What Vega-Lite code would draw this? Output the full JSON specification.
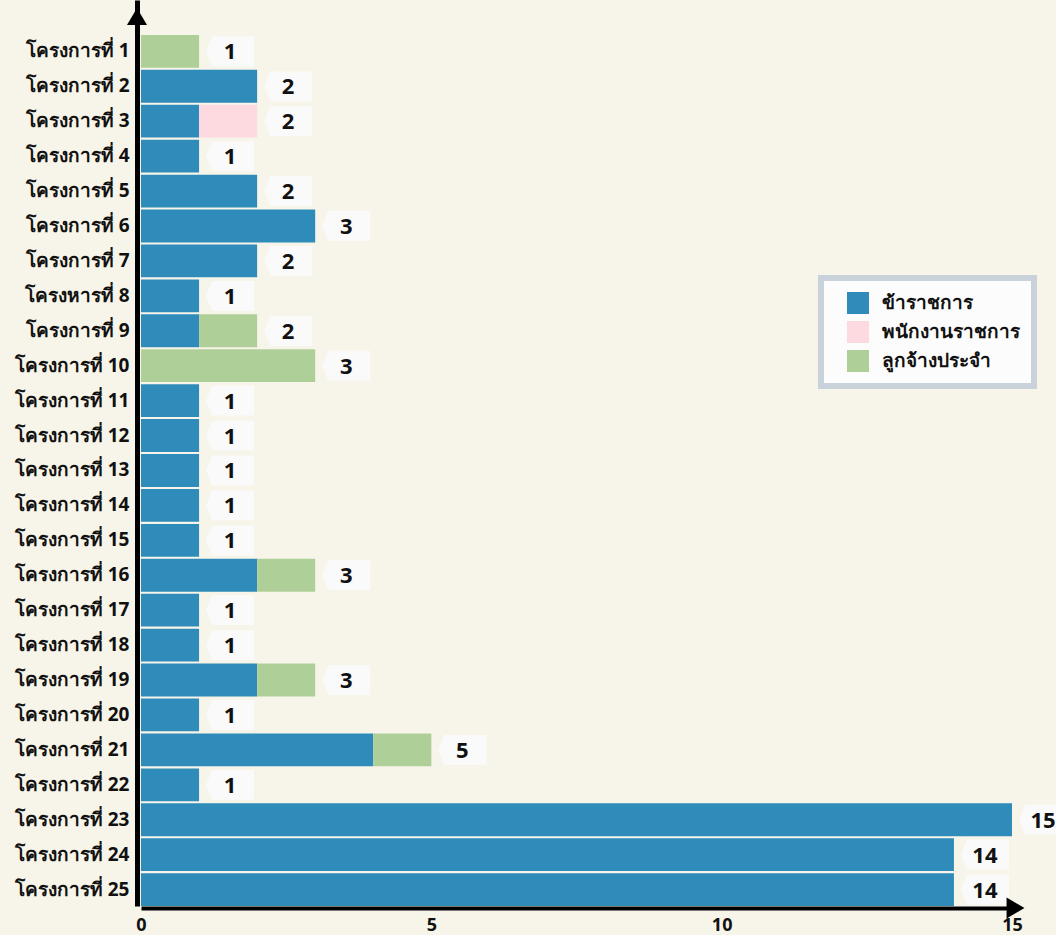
{
  "$schema": "https://vega.github.io/schema/vega-lite/v6.json",
  "autosize": {"type": "none"},
  "width": 871,
  "height": 906,
  "padding": {"left": 141, "top": 0, "right": 44, "bottom": 29},
  "background": "#f7f5e9",
  "config": {
    "view": {"stroke": null},
    "font": "Noto Sans",
    "axis": {"labelFont": "Noto Sans", "labelFontWeight": "bold", "labelColor": "#111111", "labelFontSize": 19}
  },
  "datasets": {
    "rows": [
      {"project": "โครงการที่ 1", "type": "ลูกจ้างประจำ", "n": 1},
      {"project": "โครงการที่ 2", "type": "ข้าราชการ", "n": 2},
      {"project": "โครงการที่ 3", "type": "ข้าราชการ", "n": 1},
      {"project": "โครงการที่ 3", "type": "พนักงานราชการ", "n": 1},
      {"project": "โครงการที่ 4", "type": "ข้าราชการ", "n": 1},
      {"project": "โครงการที่ 5", "type": "ข้าราชการ", "n": 2},
      {"project": "โครงการที่ 6", "type": "ข้าราชการ", "n": 3},
      {"project": "โครงการที่ 7", "type": "ข้าราชการ", "n": 2},
      {"project": "โครงหารที่ 8", "type": "ข้าราชการ", "n": 1},
      {"project": "โครงการที่ 9", "type": "ข้าราชการ", "n": 1},
      {"project": "โครงการที่ 9", "type": "ลูกจ้างประจำ", "n": 1},
      {"project": "โครงการที่ 10", "type": "ลูกจ้างประจำ", "n": 3},
      {"project": "โครงการที่ 11", "type": "ข้าราชการ", "n": 1},
      {"project": "โครงการที่ 12", "type": "ข้าราชการ", "n": 1},
      {"project": "โครงการที่ 13", "type": "ข้าราชการ", "n": 1},
      {"project": "โครงการที่ 14", "type": "ข้าราชการ", "n": 1},
      {"project": "โครงการที่ 15", "type": "ข้าราชการ", "n": 1},
      {"project": "โครงการที่ 16", "type": "ข้าราชการ", "n": 2},
      {"project": "โครงการที่ 16", "type": "ลูกจ้างประจำ", "n": 1},
      {"project": "โครงการที่ 17", "type": "ข้าราชการ", "n": 1},
      {"project": "โครงการที่ 18", "type": "ข้าราชการ", "n": 1},
      {"project": "โครงการที่ 19", "type": "ข้าราชการ", "n": 2},
      {"project": "โครงการที่ 19", "type": "ลูกจ้างประจำ", "n": 1},
      {"project": "โครงการที่ 20", "type": "ข้าราชการ", "n": 1},
      {"project": "โครงการที่ 21", "type": "ข้าราชการ", "n": 4},
      {"project": "โครงการที่ 21", "type": "ลูกจ้างประจำ", "n": 1},
      {"project": "โครงการที่ 22", "type": "ข้าราชการ", "n": 1},
      {"project": "โครงการที่ 23", "type": "ข้าราชการ", "n": 15},
      {"project": "โครงการที่ 24", "type": "ข้าราชการ", "n": 14},
      {"project": "โครงการที่ 25", "type": "ข้าราชการ", "n": 14}
    ]
  },
  "data": {"name": "rows"},
  "encoding": {
    "y": {
      "field": "project",
      "type": "nominal",
      "scale": {
        "domain": ["_top", "โครงการที่ 1", "โครงการที่ 2", "โครงการที่ 3", "โครงการที่ 4", "โครงการที่ 5", "โครงการที่ 6", "โครงการที่ 7", "โครงหารที่ 8", "โครงการที่ 9", "โครงการที่ 10", "โครงการที่ 11", "โครงการที่ 12", "โครงการที่ 13", "โครงการที่ 14", "โครงการที่ 15", "โครงการที่ 16", "โครงการที่ 17", "โครงการที่ 18", "โครงการที่ 19", "โครงการที่ 20", "โครงการที่ 21", "โครงการที่ 22", "โครงการที่ 23", "โครงการที่ 24", "โครงการที่ 25"],
        "paddingInner": 0.06,
        "paddingOuter": 0
      },
      "axis": {
        "title": null,
        "ticks": false,
        "domainColor": "#000000",
        "domainWidth": 5,
        "offset": 4,
        "labelPadding": 8,
        "labelExpr": "datum.value == '_top' ? '' : datum.value"
      }
    }
  },
  "layer": [
    {
      "mark": {"type": "bar"},
      "encoding": {
        "x": {
          "field": "n",
          "type": "quantitative",
          "stack": "zero",
          "scale": {"domain": [0, 15], "nice": false},
          "axis": {
            "title": null,
            "values": [0, 5, 10, 15],
            "format": "d",
            "labelFlush": false,
            "ticks": false,
            "grid": false,
            "domainColor": "#000000",
            "domainWidth": 4,
            "offset": 2,
            "labelPadding": 8,
            "labelFontSize": 18
          }
        },
        "color": {
          "field": "type",
          "type": "nominal",
          "scale": {
            "domain": ["ข้าราชการ", "พนักงานราชการ", "ลูกจ้างประจำ"],
            "range": ["#2e8bba", "#fdd9e0", "#afcf98"]
          },
          "legend": {
            "title": null,
            "orient": "none",
            "legendX": 680,
            "legendY": 278,
            "symbolType": "square",
            "symbolSize": 484,
            "symbolStrokeWidth": 0,
            "symbolOpacity": 1,
            "symbolOffset": 12,
            "labelFontSize": 19,
            "labelFontWeight": "bold",
            "labelColor": "#111111",
            "labelFont": "Noto Sans",
            "labelOffset": 13,
            "rowPadding": 7,
            "padding": 14,
            "fillColor": "#fcfcfc",
            "strokeColor": "#c9d1db",
            "encode": {"legend": {"update": {"strokeWidth": {"value": 6}}}}
          }
        },
        "order": {"field": "type", "sort": "ascending"}
      }
    },
    {
      "transform": [{"aggregate": [{"op": "sum", "field": "n", "as": "total"}], "groupby": ["project"]}],
      "mark": {
        "type": "point",
        "shape": "M -1 0 L -0.75 -0.62 L 1 -0.62 L 1 0.62 L -0.75 0.62 Z",
        "size": 2304,
        "filled": true,
        "fill": "#fafafa",
        "opacity": 1,
        "strokeWidth": 0,
        "xOffset": 31
      },
      "encoding": {
        "x": {"field": "total", "type": "quantitative"}
      }
    },
    {
      "transform": [{"aggregate": [{"op": "sum", "field": "n", "as": "total"}], "groupby": ["project"]}],
      "mark": {
        "type": "text",
        "dx": 31,
        "dy": 1,
        "font": "Noto Sans",
        "fontSize": 22,
        "fontWeight": "bold",
        "color": "#111111",
        "align": "center",
        "baseline": "middle"
      },
      "encoding": {
        "x": {"field": "total", "type": "quantitative"},
        "text": {"field": "total", "type": "quantitative"}
      }
    },
    {
      "data": {"values": [{"p": "_top", "v": 0}]},
      "mark": {
        "type": "point",
        "shape": "M 0 -0.85 L 1 0.85 L -1 0.85 Z",
        "size": 400,
        "filled": true,
        "fill": "#000000",
        "opacity": 1,
        "strokeWidth": 0,
        "xOffset": -4,
        "yOffset": 0
      },
      "encoding": {
        "x": {"field": "v", "type": "quantitative"},
        "y": {"field": "p", "type": "nominal", "bandPosition": 0.5}
      }
    },
    {
      "data": {"values": [{"p": "โครงการที่ 25", "v": 15}]},
      "mark": {
        "type": "point",
        "shape": "M 0.85 0 L -0.85 1 L -0.85 -1 Z",
        "size": 441,
        "filled": true,
        "fill": "#000000",
        "opacity": 1,
        "strokeWidth": 0,
        "xOffset": 3.5,
        "yOffset": 2
      },
      "encoding": {
        "x": {"field": "v", "type": "quantitative"},
        "y": {"field": "p", "type": "nominal", "bandPosition": 1}
      }
    }
  ]
}
